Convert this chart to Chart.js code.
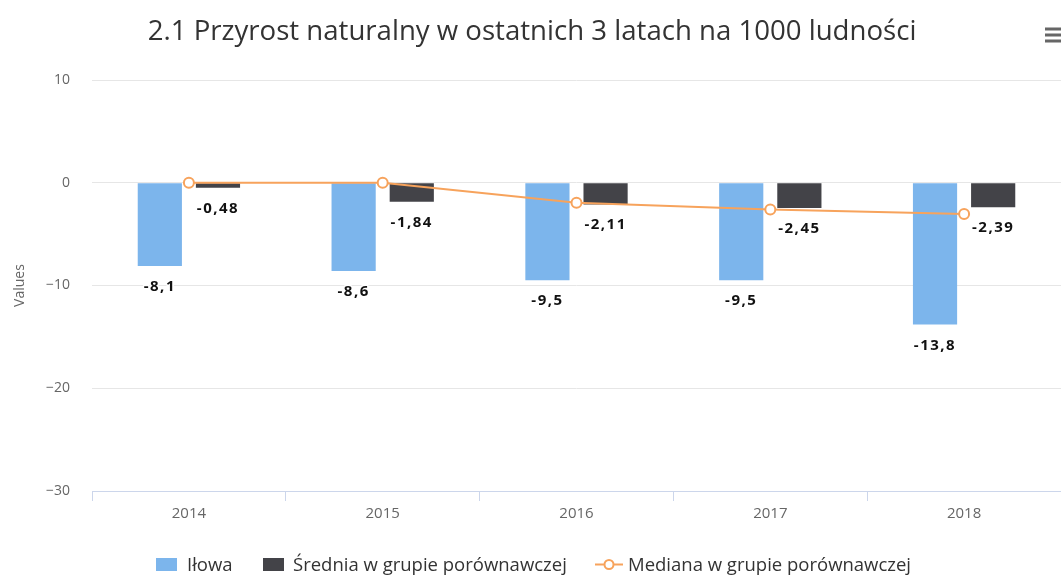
<!DOCTYPE html>
<html><head><meta charset="utf-8">
<script src="https://cdn.jsdelivr.net/npm/chart.js@4.4.1/dist/chart.umd.min.js"></script>
<style>html,body{margin:0;padding:0;background:#fff}#outer{width:1061px;height:575px;overflow:hidden;position:relative}#wrap{width:1068px;height:575px;position:relative}</style>
</head><body><div id="outer"><div id="wrap"><canvas id="c"></canvas></div></div>
<script>
const categories = ['2014', '2015', '2016', '2017', '2018'];
const ilowa = [-8.1, -8.6, -9.5, -9.5, -13.8];
const srednia = [-0.48, -1.84, -2.11, -2.45, -2.39];
const mediana = [0, 0, -1.95, -2.6, -3.05];
const yTicks = [10, 0, -10, -20, -30];
const seriesNames = ['Iłowa', 'Średnia w grupie porównawczej', 'Mediana w grupie porównawczej'];
const titleText = '2.1 Przyrost naturalny w ostatnich 3 latach na 1000 ludności';
const yTitle = 'Values';

const FONT = '"Open Sans", "DejaVu Sans", sans-serif';
const fmt = v => String(v).replace('.', ',');

const decor = {
  id: 'decor',
  afterDraw(chart) {
    const ctx = chart.ctx;
    ctx.save();
    // title
    ctx.fillStyle = '#333';
    ctx.font = '27.6px ' + FONT;
    ctx.textAlign = 'center';
    ctx.textBaseline = 'alphabetic';
    ctx.fillText(titleText, 532, 40);
    // hamburger
    ctx.fillStyle = '#666';
    [29, 35, 41].forEach(y => ctx.fillRect(1045, y - 1.5, 16, 3));
    // data labels
    ctx.font = 'bold 15px ' + FONT;
    ctx.lineJoin = 'round';
    if ('letterSpacing' in ctx) ctx.letterSpacing = '1.5px';
    [0, 1].forEach(di => {
      const meta = chart.getDatasetMeta(di);
      const data = chart.data.datasets[di].data;
      meta.data.forEach((el, i) => {
        const t = fmt(data[i]);
        const y = el.y + 25;
        ctx.lineWidth = 3;
        ctx.strokeStyle = '#fff';
        ctx.strokeText(t, el.x, y);
        ctx.fillStyle = '#111';
        ctx.fillText(t, el.x, y);
      });
    });
    if ('letterSpacing' in ctx) ctx.letterSpacing = '0px';
    // legend
    const base = 571;
    ctx.font = '18.5px ' + FONT;
    ctx.textAlign = 'left';
    ctx.fillStyle = '#7cb5ec';
    ctx.fillRect(156, 558, 21, 13);
    ctx.fillStyle = '#333';
    ctx.fillText(seriesNames[0], 187, base);
    ctx.fillStyle = '#434348';
    ctx.fillRect(263, 558, 21, 13);
    ctx.fillStyle = '#333';
    ctx.fillText(seriesNames[1], 293, base);
    ctx.strokeStyle = '#f7a35c';
    ctx.lineWidth = 2;
    ctx.beginPath(); ctx.moveTo(595, 564.5); ctx.lineTo(623, 564.5); ctx.stroke();
    ctx.beginPath(); ctx.arc(609, 564.5, 4.5, 0, Math.PI * 2);
    ctx.fillStyle = '#fff'; ctx.fill(); ctx.stroke();
    ctx.fillStyle = '#333';
    ctx.fillText(seriesNames[2], 628, base);
    ctx.restore();
  }
};

new Chart(document.getElementById('c'), {
  type: 'bar',
  data: {
    labels: categories,
    datasets: [
      { label: seriesNames[0], data: ilowa, backgroundColor: '#7cb5ec', order: 1,
        categoryPercentage: 0.6, barPercentage: 0.76 },
      { label: seriesNames[1], data: srednia, backgroundColor: '#434348', order: 2,
        categoryPercentage: 0.6, barPercentage: 0.76 },
      { label: seriesNames[2], data: mediana, type: 'line', order: 0,
        borderColor: '#f7a35c', borderWidth: 2, tension: 0,
        pointRadius: 5, pointHoverRadius: 5, pointBackgroundColor: '#fff',
        pointBorderColor: '#f7a35c', pointBorderWidth: 2 }
    ]
  },
  options: {
    responsive: true,
    maintainAspectRatio: false,
    animation: false,
    devicePixelRatio: 1,
    layout: { padding: { top: 80, bottom: 44, left: 0, right: 0 } },
    plugins: { legend: { display: false }, title: { display: false }, tooltip: { enabled: false } },
    scales: {
      x: {
        afterFit: s => { s.height = 40; },
        grid: { offset: true, drawOnChartArea: false, color: '#ccd6eb', tickLength: 10 },
        border: { display: true, color: '#ccd6eb' },
        ticks: { color: '#666', font: { family: FONT, size: 15 }, padding: 4 }
      },
      y: {
        min: -30, max: 10,
        afterFit: s => { s.width = 92; },
        afterBuildTicks: s => { s.ticks = yTicks.map(v => ({ value: v })); },
        grid: { color: '#e6e6e6', drawTicks: false },
        border: { display: false },
        ticks: { color: '#666', font: { family: FONT, size: 14 }, padding: 22,
                 callback: v => String(v).replace('-', '\u2212') },
        title: { display: true, text: yTitle, color: '#666', font: { family: FONT, size: 14 }, padding: { top: 12, bottom: 0 } }
      }
    }
  },
  plugins: [decor]
});
</script>
</body></html>
